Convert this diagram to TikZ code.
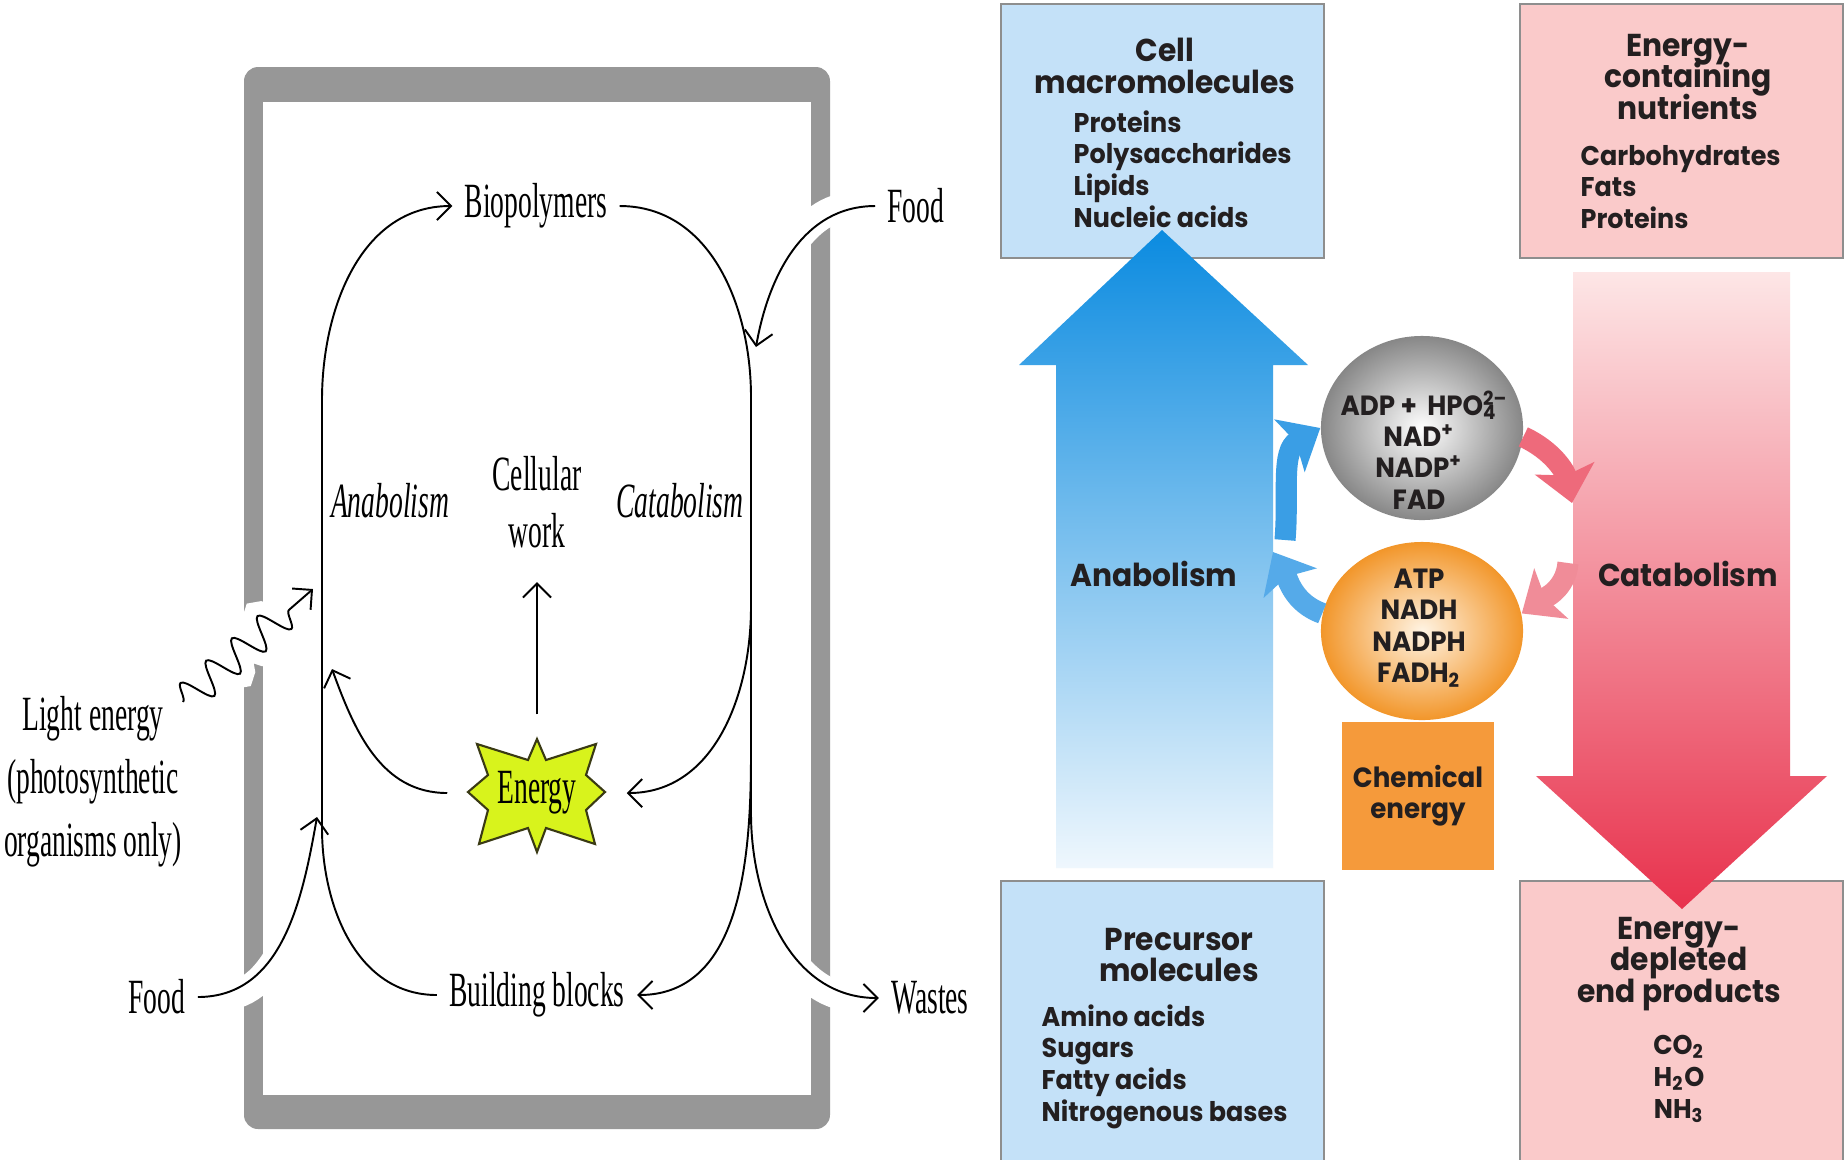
\documentclass[tikz,border=0pt]{standalone}
\usepackage{fontspec}
\usetikzlibrary{arrows.meta,decorations.pathmorphing,shapes.geometric}
\newfontfamily\condserif[FakeStretch=0.56]{Liberation Serif}
\newfontfamily\geosans[FakeStretch=0.94]{Poppins}
\newcommand\tightlines{\lineskiplimit=-20pt\relax}
\definecolor{framegray}{HTML}{979797}
\definecolor{starfill}{HTML}{D8F31C}
\definecolor{stardark}{HTML}{3A3A14}
\definecolor{boxblue}{HTML}{C4E1F8}
\definecolor{boxpink}{HTML}{FACACA}
\definecolor{boxline}{HTML}{8E8E8E}
\definecolor{anablue}{HTML}{0B8BE0}
\definecolor{anapale}{HTML}{EFF7FD}
\definecolor{catred}{HTML}{E8324D}
\definecolor{catpale}{HTML}{FDE6E6}
\definecolor{chemorange}{HTML}{F59A3B}
\definecolor{ballorange}{HTML}{F2962A}
\definecolor{ballcore}{HTML}{FFF4E4}
\definecolor{ballgray}{HTML}{878787}
\definecolor{ringblueA}{HTML}{55AAE9}
\definecolor{ringblueB}{HTML}{3A9EE5}
\definecolor{ringredC}{HTML}{EE6A7B}
\definecolor{ringredD}{HTML}{F08C98}
\definecolor{ink}{HTML}{231F20}

\begin{document}
\begin{tikzpicture}[x=0.01cm, y=0.01cm,
	lbl/.style={font=\condserif\fontsize{14}{17.9}\selectfont},
	ital/.style={font=\condserif\itshape\fontsize{14}{17}\selectfont},
	pfeil/.style={line width=0.55pt, -{Straight Barb[length=4pt,width=8pt]}},
	linie/.style={line width=0.55pt},
	halo/.style={preaction={draw=white, line width=8pt, arrows=-, shorten <=6pt, shorten >=6pt}},
	kasten/.style={draw=boxline, line width=0.7pt},
	kopf/.style={font={\geosans\bfseries\fontsize{9}{9}\selectfont\tightlines}, text=ink, align=center, inner sep=0pt},
	eintrag/.style={font=\geosans\bfseries\fontsize{7.7}{9}\selectfont, text=ink, inner sep=0pt},
	kugeltext/.style={font={\geosans\bfseries\fontsize{7.9}{8.9}\selectfont\tightlines}, text=ink, align=center, inner sep=0pt},
	ring/.style={line width=6pt, -{Stealth[length=10pt,width=17pt,inset=2pt]}}]
	\useasboundingbox (0,0) rectangle (1847,-1159);
	\fill[white] (0,0) rectangle (1847,-1159);
	
	% Rahmen der Zelle
	\fill[framegray, rounded corners=4pt] (244,-67) rectangle (830,-1129);
	\fill[white] (263,-102) rectangle (811,-1095);
	
	% Stern fuer die Energie
	\draw[fill=starfill, draw=stardark, line width=0.6pt, shift={(537,-792)}]
		(0,53) -- (9,32) -- (59,48) -- (49,17) -- (68,0) -- (49,-18) -- (58,-52) -- (9,-36)
		-- (0,-60) -- (-9,-36) -- (-58,-52) -- (-49,-18) -- (-69,0) -- (-49,17) -- (-60,48) -- (-9,32) -- cycle;
	
	% Beschriftungen links
	\node[lbl] (bio) at (536,-206) {Biopolymers};
	\node[lbl] (bb) at (537,-995) {Building blocks};
	\node[lbl] (foodR) at (916,-206) {Food};
	\node[lbl] (foodL) at (157,-997) {Food};
	\node[lbl] (wastes) at (930,-998) {Wastes};
	\node[lbl, align=center] (light) at (93,-782) {Light energy\\(photosynthetic\\organisms only)};
	\node[lbl, align=center, font=\condserif\fontsize{14}{16.1}\selectfont] (cw) at (537,-502) {Cellular\\work};
	\node[ital] (anab) at (390,-501) {Anabolism};
	\node[ital] (catab) at (680,-501) {Catabolism};
	\node[lbl, minimum width=1.78cm, minimum height=1.56cm] (energy) at (537,-793) {Energy};
	
	% Hilfspunkte der Kreislauflinien
	\coordinate (ll) at (322,-828);
	\coordinate (lu) at (322,-400);
	\coordinate (ru) at (751,-397);
	\coordinate (re) at (751,-607);
	\coordinate (rb) at (751,-754);
	\coordinate (rw) at (751,-813);
	\coordinate (foodRtip) at (756,-347);
	\coordinate (foodLtip) at (317,-817);
	\coordinate (wavestart) at (183,-702);
	\coordinate (wavetip) at (313,-589);
	\coordinate (anatip) at (332,-669);
	
	% Pfeile ueber den Rahmen
	\draw[pfeil, halo] (foodR.west) to[out=180,in=80] (foodRtip);
	\draw[pfeil, halo] (foodL.east) to[out=0,in=-100] (foodLtip);
	\draw[pfeil, halo, decorate, decoration={snake, amplitude=0.16cm, segment length=0.34cm, post length=0.3cm}] (wavestart) -- (wavetip);
	\draw[pfeil, halo] (rw) to[out=-90,in=180] (wastes.west);
	
	% Kreislauf
	\draw[pfeil] (bb.west) to[out=180,in=-90] (ll) -- (lu) to[out=90,in=180] (bio.west);
	\draw[linie] (bio.east) to[out=0,in=90] (ru) -- (rw);
	\draw[pfeil] (re) to[out=-90,in=0] (energy.east);
	\draw[pfeil] (rb) to[out=-90,in=0] (bb.east);
	\draw[pfeil] (energy.west) to[out=180,in=-70] (anatip);
	\draw[pfeil, shorten >=0.22cm] (energy.north) -- (cw.south);
	
	% Kaesten rechts
	\foreach \x/\y/\h/\farbe in {1001/4/254/boxblue, 1520/4/254/boxpink, 1001/881/290/boxblue, 1520/881/290/boxpink}
		\draw[kasten, fill=\farbe] (\x,-\y) rectangle ++(323,-\h);
	
	% grosse Pfeile
	\shade[top color=anablue, bottom color=anapale] (1162,-230) -- (1308,-365) -- (1273,-365) -- (1273,-868)
		-- (1056,-868) -- (1056,-365) -- (1019,-365) -- cycle;
	\shade[top color=catpale, bottom color=catred] (1573,-272) -- (1790,-272) -- (1790,-776) -- (1827,-776)
		-- (1682,-909) -- (1536,-776) -- (1573,-776) -- cycle;
	
	% chemische Energie und Kugeln
	\node[kugeltext, fill=chemorange, minimum width=1.51cm, minimum height=1.48cm] (chem) at (1418,-796) {Chemical\\energy};
	\node[ellipse, minimum width=2.02cm, minimum height=1.84cm, inner color=white, outer color=ballgray] (oxball) at (1422,-428) {};
	\node[ellipse, minimum width=2.02cm, minimum height=1.78cm, inner color=ballcore, outer color=ballorange] (redball) at (1422,-631) {};
	\node[kugeltext] (oxtext) at (1419,-450) {ADP + \,HPO\rlap{\textsuperscript{2–}}\textsubscript{4}\\NAD\textsuperscript{+}\\NADP\textsuperscript{+}\\FAD};
	\node[kugeltext] (redtext) at (1419,-628) {ATP\\NADH\\NADPH\\FADH\textsubscript{2}};
	
	% Ringpfeile
	\coordinate (anaend) at (1273,-552);
	\coordinate (anastart) at (1285,-540);
	\coordinate (catend) at (1572,-503);
	\coordinate (catstart) at (1568,-563);
	\draw[ring, ringblueA] (redball.170) to[out=160,in=-61] (anaend);
	\draw[ring, ringblueB] (anastart) to[out=85,in=210] (oxball.west);
	\draw[ring, ringredC] (oxball.-5) to[out=-25,in=102] (catend);
	\draw[ring, ringredD] (catstart) to[out=-95,in=34] (redball.10);
	
	% Texte rechts
	\node[kopf] (cellhead) at (1165,-66) {Cell\\macromolecules};
	\foreach \t [count=\i] in {Proteins,Polysaccharides,Lipids,Nucleic acids}
		\node[eintrag, anchor=base west] (cell-\i) at (1073,{-132-31.7*(\i-1)}) {\t};
	\node[kopf] (nuthead) at (1688,-77) {Energy-\\containing\\nutrients};
	\foreach \t [count=\i] in {Carbohydrates,Fats,Proteins}
		\node[eintrag, anchor=base west] (nut-\i) at (1580,{-165-31.5*(\i-1)}) {\t};
	\node[kopf] (prechead) at (1179,-955) {Precursor\\molecules};
	\foreach \t [count=\i] in {Amino acids,Sugars,Fatty acids,Nitrogenous bases}
		\node[eintrag, anchor=base west] (prec-\i) at (1041,{-1026-31.7*(\i-1)}) {\t};
	\node[kopf] (endhead) at (1679,-964) {Energy-\\depleted\\end products};
	\foreach \t [count=\i] in {CO\textsubscript{2},H\textsubscript{2}O,NH\textsubscript{3}}
		\node[eintrag, anchor=base] (end-\i) at (1679,{-1054-32*(\i-1)}) {\t};
	\node[kopf] (anablabel) at (1154,-574) {Anabolism};
	\node[kopf] (catablabel) at (1688,-574) {Catabolism};
\end{tikzpicture}
\end{document}
